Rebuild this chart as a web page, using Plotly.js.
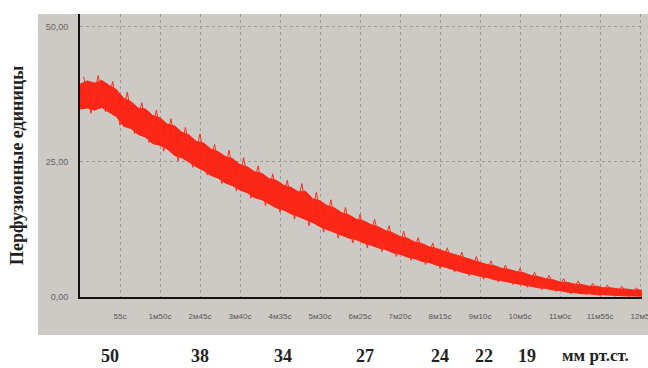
<!DOCTYPE html>
<html>
<head>
<meta charset="utf-8">
<script src="https://cdn.plot.ly/plotly-3.0.1.min.js"></script>
<style>html,body{margin:0;padding:0;background:#fff;}#chart{width:648px;height:368px;}</style>
</head>
<body>
<div id="chart"></div>
<script>
// time in seconds
var timeSec = [0,10,20,30,40,50,60,70,80,90,100,110,120,130,140,150,160,170,180,190,200,210,220,230,240,250,260,270,280,290,300,310,320,330,340,350,360,370,380,390,400,410,420,430,440,450,460,470,480,490,500,510,520,530,540,550,560,570,580,590,600,610,620,630,640,650,660,670,680,690,700,710,720,730,740,750,760,770,780];
// upper edge of the noisy perfusion signal
var upperEdge = [39.4,40.0,39.6,40.1,39.2,38.4,36.8,36.2,35.0,34.8,33.6,33.2,32.0,31.7,30.5,30.0,28.8,28.5,27.4,26.9,26.0,25.6,24.5,24.1,23.2,22.9,21.9,21.6,20.7,20.3,19.5,19.6,18.2,17.8,16.9,16.5,15.6,15.2,14.4,14.1,13.4,13.0,12.3,11.9,11.2,10.9,10.2,9.9,9.3,9.0,8.5,8.1,7.6,7.3,6.8,6.5,6.0,5.8,5.3,5.1,4.7,4.5,4.0,3.8,3.4,3.2,2.8,2.7,2.4,2.3,2.0,2.0,1.7,1.7,1.5,1.5,1.3,1.3,1.1];
// lower edge of the noisy perfusion signal
var lowerEdge = [34.8,35.0,34.6,35.1,34.2,33.4,31.6,31.2,30.1,29.6,28.4,28.1,27.4,26.2,25.8,24.9,24.1,23.4,22.5,22.0,21.1,20.6,19.8,19.3,18.4,18.0,17.3,16.5,16.1,15.4,14.9,14.3,13.8,13.0,12.5,11.9,11.5,10.9,10.6,10.0,9.6,9.1,8.8,8.2,7.9,7.4,7.1,6.6,6.4,5.9,5.6,5.2,4.9,4.4,4.2,3.8,3.6,3.2,3.0,2.7,2.5,2.2,2.0,1.7,1.6,1.3,1.2,0.9,0.8,0.6,0.6,0.4,0.4,0.3,0.3,0.2,0.2,0.1,0.1];
// spike samples (noise peaks) between the edge samples
var spikeSec = [5,15,25,35,45,55,65,75,85,95,105,115,125,135,145,155,165,175,185,195,205,215,225,235,245,255,265,275,285,295,305,315,325,335,345,355,365,375,385,395,405,415,425,435,445,455,465,475,485,495,505,515,525,535,545,555,565,575,585,595,605,615,625,635,645,655,665,675,685,695,705,715,725,735,745,755,765,775];
var spikeVal = [40.8,34.0,41.0,34.3,39.9,31.8,37.9,30.2,36.0,28.6,34.6,27.0,33.0,25.2,31.4,24.0,30.2,22.6,28.3,21.0,27.2,19.6,25.8,18.3,24.3,16.9,22.8,15.7,21.6,14.4,21.0,13.2,19.4,12.0,18.0,10.9,16.6,10.0,15.3,9.1,14.4,8.4,13.2,7.5,12.2,6.8,11.0,6.0,10.0,5.3,9.1,4.6,8.3,3.9,7.5,3.3,6.7,2.8,5.9,2.3,5.3,1.8,4.6,1.4,4.0,1.0,3.4,0.6,3.0,0.4,2.5,0.2,2.2,0.1,2.0,0.1,1.7,0.1];

var xTickVals = [55,110,165,220,275,330,385,440,495,550,605,660,715,770];
var xTickText = ["55с","1м50с","2м45с","3м40с","4м35с","5м30с","6м25с","7м20с","8м15с","9м10с","10м5с","11м0с","11м55с","12м5"];
var yTickVals = [0,25,50];
var yTickText = ["0,00","25,00","50,00"];

var pressureLabels = ["50","38","34","27","24","22","19"];
var pressurePos = [41,165,279,392,495,556,615];
var pressureUnit = "мм рт.ст.";
var yTitle = "Перфузионные единицы";

var red = "rgb(252,38,22)";
var traces = [
  {x: timeSec, y: lowerEdge, type: "scatter", mode: "lines", line: {color: red, width: 1}, hoverinfo: "skip", showlegend: false},
  {x: timeSec, y: upperEdge, type: "scatter", mode: "lines", fill: "tonexty", fillcolor: red, line: {color: red, width: 1}, hoverinfo: "skip", showlegend: false},
  {x: spikeSec, y: spikeVal, type: "scatter", mode: "lines", line: {color: "rgb(250,45,28)", width: 1}, hoverinfo: "skip", showlegend: false}
];

var serif = "Liberation Serif, Times New Roman, serif";
var annotations = pressureLabels.map(function(t, i) {
  return {text: "<b>" + t + "</b>", x: pressurePos[i], xref: "x", y: -0.208, yref: "paper", xanchor: "center", yanchor: "middle", showarrow: false,
          font: {family: serif, size: 18, color: "#222"}};
});
annotations.push({text: "<b>" + pressureUnit + "</b>", x: 0.918, xref: "paper", y: -0.208, yref: "paper", xanchor: "center", yanchor: "middle", showarrow: false,
  font: {family: serif, size: 17, color: "#222"}});
annotations.push({text: "<b>" + yTitle + "</b>", x: -0.112, xref: "paper", y: 0.463, yref: "paper", xanchor: "center", yanchor: "middle",
  textangle: -90, showarrow: false, font: {family: serif, size: 18, color: "#222"}});

var layout = {
  width: 648, height: 368,
  margin: {l: 80, r: 6, t: 14, b: 71, pad: 0},
  paper_bgcolor: "#ffffff",
  plot_bgcolor: "rgba(0,0,0,0)",
  showlegend: false,
  xaxis: {
    range: [0, 772.7], tickmode: "array", tickvals: xTickVals, ticktext: xTickText,
    showgrid: true, gridcolor: "#9c9a97", griddash: "dot", gridwidth: 1,
    showline: true, linecolor: "#111", linewidth: 2,
    ticks: "outside", ticklen: 10, tickcolor: "rgba(0,0,0,0)",
    ticklabeloverflow: "allow",
    tickfont: {family: "Liberation Sans, Arial, sans-serif", size: 8, color: "#555"},
    zeroline: false, fixedrange: true
  },
  yaxis: {
    range: [0, 52.4], tickmode: "array", tickvals: yTickVals, ticktext: yTickText,
    showgrid: true, gridcolor: "#9c9a97", griddash: "dot", gridwidth: 1,
    showline: true, linecolor: "#111", linewidth: 2,
    ticks: "outside", ticklen: 8, tickcolor: "rgba(0,0,0,0)",
    tickfont: {family: "Liberation Sans, Arial, sans-serif", size: 9, color: "#666"},
    zeroline: false, fixedrange: true
  },
  shapes: [
    {type: "rect", xref: "paper", yref: "paper", x0: -0.0747, x1: 1.02, y0: -0.1343, y1: 1.0, layer: "below",
     fillcolor: "#cdcac5", line: {width: 0}}
  ],
  annotations: annotations
};

Plotly.newPlot("chart", traces, layout, {staticPlot: true, displayModeBar: false});
</script>
</body>
</html>
